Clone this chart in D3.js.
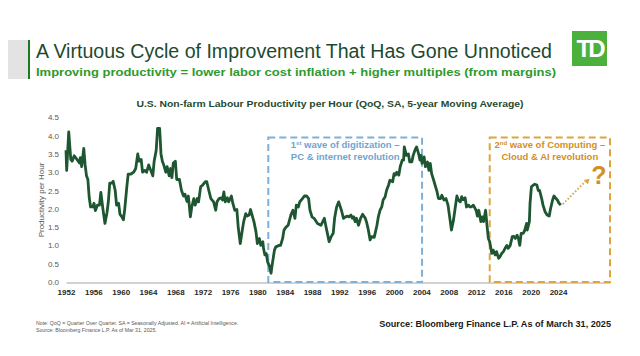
<!DOCTYPE html>
<html><head><meta charset="utf-8">
<script src="https://cdn.jsdelivr.net/npm/d3@7"></script>
<style>html,body{margin:0;padding:0;background:#fff;}svg{display:block;}</style>
</head><body>
<script>
// ---- data ----
const years = [1952.0,1952.1,1952.4,1952.7,1952.9,1953.2,1953.6,1954.0,1954.1,1954.3,1954.6,1954.8,1955.0,1955.2,1955.4,1955.6,1955.9,1956.1,1956.3,1956.6,1956.9,1957.1,1957.4,1957.7,1958.0,1958.2,1958.4,1958.7,1958.9,1959.2,1959.4,1959.7,1959.9,1960.1,1960.4,1960.6,1960.9,1961.1,1961.5,1961.9,1962.2,1962.5,1962.7,1963.0,1963.2,1963.5,1963.8,1964.1,1964.4,1964.7,1964.9,1965.2,1965.4,1965.7,1965.9,1966.1,1966.3,1966.6,1966.8,1967.1,1967.3,1967.5,1967.7,1968.0,1968.2,1968.6,1968.9,1969.2,1969.4,1969.7,1969.9,1970.2,1970.4,1970.7,1970.9,1971.2,1971.4,1971.7,1972.0,1972.4,1972.6,1972.9,1973.2,1973.6,1973.9,1974.1,1974.4,1974.7,1974.9,1975.1,1975.3,1975.6,1975.8,1976.2,1976.4,1976.7,1977.0,1977.2,1977.5,1977.8,1978.0,1978.3,1978.5,1978.8,1979.0,1979.3,1979.5,1979.8,1980.0,1980.3,1980.5,1980.8,1980.9,1981.1,1981.3,1981.5,1981.8,1982.0,1982.2,1982.5,1982.7,1983.2,1983.4,1983.7,1983.9,1984.2,1984.5,1984.9,1985.2,1985.5,1985.7,1986.0,1986.2,1986.6,1986.9,1987.2,1987.5,1987.7,1988.0,1988.3,1988.8,1989.3,1989.8,1990.0,1990.3,1990.5,1990.8,1991.1,1991.3,1991.6,1991.9,1992.3,1992.6,1992.9,1993.2,1993.4,1993.7,1993.9,1994.1,1994.3,1994.5,1994.8,1995.1,1995.4,1995.8,1996.0,1996.2,1996.5,1996.7,1997.1,1997.5,1997.7,1997.95,1998.2,1998.4,1998.7,1998.9,1999.2,1999.4,1999.8,2000.0,2000.2,2000.4,2000.7,2000.9,2001.2,2001.4,2001.5,2001.8,2002.1,2002.3,2002.6,2002.8,2003.1,2003.3,2003.6,2003.8,2003.95,2004.1,2004.4,2004.6,2004.9,2005.1,2005.3,2005.5,2005.8,2006.0,2006.3,2006.5,2006.8,2007.0,2007.3,2007.6,2007.9,2008.2,2008.4,2008.7,2008.9,2009.2,2009.4,2009.7,2009.9,2010.1,2010.4,2010.6,2010.9,2011.1,2011.3,2011.6,2012.0,2012.2,2012.4,2012.7,2012.9,2013.1,2013.4,2013.6,2013.8,2014.0,2014.3,2014.5,2014.8,2015.0,2015.3,2015.5,2015.75,2016.0,2016.25,2016.5,2016.7,2017.0,2017.3,2017.5,2017.75,2018.0,2018.2,2018.4,2018.6,2018.9,2019.1,2019.4,2019.5,2019.8,2019.9,2020.1,2020.4,2020.6,2020.9,2021.1,2021.3,2021.6,2021.8,2022.1,2022.4,2022.7,2022.9,2023.2,2023.4,2023.7,2023.9,2024.15,2024.4];
const productivity = [3.6,3.05,4.1,3.35,3.3,3.45,3.35,3.25,3.4,3.15,3.65,3.2,2.9,2.8,2.3,2.05,2.05,2.15,1.95,2.1,2.1,2.45,2.0,1.6,1.9,2.2,2.7,2.7,2.75,2.5,2.1,2.15,1.85,1.8,1.7,2.0,2.6,2.95,2.95,3.0,3.1,3.5,3.3,3.35,3.0,3.05,3.0,3.2,3.05,2.9,3.3,3.6,4.2,4.2,3.5,3.3,3.2,3.0,3.15,2.9,3.1,2.85,3.25,3.3,2.8,2.8,2.5,2.35,2.4,2.2,2.35,1.78,2.05,2.28,2.1,2.28,2.19,2.6,2.65,2.74,2.74,2.5,2.28,2.19,1.96,2.19,2.28,2.3,2.24,2.46,2.19,2.3,2.19,2.35,2.16,1.96,1.98,1.5,1.05,1.42,1.65,1.87,1.8,1.83,1.98,1.78,1.65,1.37,1.05,1.19,1.0,1.1,0.92,0.74,0.78,0.55,0.42,0.24,0.51,0.87,0.96,1.0,1.0,1.19,1.42,1.5,1.55,1.83,1.96,1.74,2.1,2.05,2.19,2.28,2.35,2.35,2.28,1.96,1.78,1.74,1.6,1.55,1.74,1.55,1.28,1.1,1.24,1.33,1.74,2.05,2.19,1.96,1.74,1.78,1.8,1.78,1.83,1.74,1.78,1.65,1.74,1.55,1.74,1.85,1.74,1.62,1.46,1.15,1.24,1.22,1.55,1.78,1.96,2.05,2.24,2.33,2.5,2.65,2.78,2.74,2.96,2.92,3.0,2.92,3.15,3.33,3.33,3.69,3.46,3.5,3.28,3.28,3.46,3.62,3.69,3.5,3.33,3.46,3.24,3.42,3.15,3.28,3.05,3.24,2.96,2.78,2.65,2.46,2.28,2.28,2.37,2.24,2.28,2.1,1.69,1.42,1.69,1.96,2.35,2.24,2.19,2.33,2.25,2.3,2.05,2.1,2.05,2.05,2.1,1.96,1.8,1.96,1.65,1.78,1.65,1.96,1.55,1.19,1.1,0.78,0.87,0.74,0.83,0.65,0.69,0.78,0.83,0.92,1.0,0.92,1.0,1.24,1.25,1.19,1.28,1.19,1.0,1.33,1.33,1.4,1.6,1.42,1.65,2.15,2.6,2.65,2.67,2.65,2.5,2.5,2.28,2.1,1.92,1.83,1.8,2.0,2.24,2.35,2.28,2.24,2.15,2.1];
const xTickYears = [1952,1956,1960,1964,1968,1972,1976,1980,1984,1988,1992,1996,2000,2004,2008,2012,2016,2020,2024];
const yTickValues = [0,0.5,1.0,1.5,2.0,2.5,3.0,3.5,4.0,4.5];
// annotation boxes (year / value extents)
const wave1 = {x0:1981.6, x1:2004.1, y0:0, y1:3.95, lines:["1st wave of digitization \u2013","PC & internet revolution"]};
const wave2 = {x0:2014.0, x1:2031.6, y0:0, y1:3.95, lines:["2nd wave of Computing \u2013","Cloud & AI revolution"]};
const arrowEnd = {year:2028.6, value:2.82};

const W=640,H=356;
const svg=d3.select("body").append("svg").attr("width",W).attr("height",H);
const FONT="'Liberation Sans', Arial, sans-serif";

// header decoration
svg.append("rect").attr("x",8).attr("y",40).attr("width",20).attr("height",39).attr("fill","#e3e3e3");
svg.append("rect").attr("x",28).attr("y",40).attr("width",2).attr("height",39).attr("fill","#1f7a1f");
svg.append("text").attr("x",36).attr("y",58).attr("font-family",FONT).attr("font-size",19.5)
  .attr("fill","#1c4a30").attr("textLength",516).attr("lengthAdjust","spacingAndGlyphs")
  .text("A Virtuous Cycle of Improvement That Has Gone Unnoticed");
svg.append("text").attr("x",36).attr("y",76).attr("font-family",FONT).attr("font-size",11).attr("font-weight","bold")
  .attr("fill","#2e9a2e").attr("textLength",520).attr("lengthAdjust","spacingAndGlyphs")
  .text("Improving productivity = lower labor cost inflation + higher multiples (from margins)");
// TD logo
svg.append("rect").attr("x",572).attr("y",31).attr("width",35).attr("height",35).attr("fill","#4cb03c");
svg.append("text").attr("x",589.5).attr("y",57).attr("text-anchor","middle").attr("font-family",FONT)
  .attr("font-weight","bold").attr("font-size",24).attr("fill","#fff").attr("letter-spacing",-3).text("TD");

// chart title
svg.append("text").attr("x",330).attr("y",107).attr("text-anchor","middle").attr("font-family",FONT)
  .attr("font-size",9).attr("font-weight","bold").attr("fill","#1f4a2e").attr("textLength",387).attr("lengthAdjust","spacingAndGlyphs")
  .text("U.S. Non-farm Labour Productivity per Hour (QoQ, SA, 5-year Moving Average)");

const x=d3.scaleLinear().domain([1952,2031.6]).range([66,610]);
const y=d3.scaleLinear().domain([0,4.5]).range([282,117.3]);

// y axis
const yAx=svg.append("g").attr("transform","translate(61,0)")
  .call(d3.axisLeft(y).tickValues(yTickValues).tickSize(0).tickPadding(2).tickFormat(d3.format(".1f")));
yAx.select(".domain").remove();
yAx.selectAll("text").attr("font-family",FONT).attr("font-size",8).attr("fill","#595959");
svg.append("text").attr("transform","translate(44,200) rotate(-90)").attr("text-anchor","middle")
  .attr("font-family",FONT).attr("font-size",8).attr("fill","#595959").text("Productivity per Hour");

// x axis
const xAx=svg.append("g").attr("transform","translate(0,282.5)")
  .call(d3.axisBottom(x).tickValues(xTickYears).tickSize(0).tickPadding(7).tickFormat(d3.format("d")));
xAx.select(".domain").attr("stroke","#a6a6a6").attr("stroke-width",1.2);
xAx.selectAll("text").attr("font-family",FONT).attr("font-size",8).attr("font-weight","bold").attr("fill","#262626");

// boxes
function box(b,color){
  svg.append("rect").attr("x",x(b.x0)).attr("y",y(b.y1)).attr("width",x(b.x1)-x(b.x0)).attr("height",y(b.y0)-y(b.y1))
    .attr("fill","none").attr("stroke",color).attr("stroke-width",2).attr("stroke-dasharray","7,4");
}
box(wave1,"#7fb0d8");
box(wave2,"#e0a43c");

// line
const pts=years.map((yr,i)=>[yr,productivity[i]]);
svg.append("path").datum(pts).attr("fill","none").attr("stroke","#1e5631").attr("stroke-width",2.8)
  .attr("stroke-linejoin","round").attr("d",d3.line().x(d=>x(d[0])).y(d=>y(d[1])));

// wave texts
function label(b,color,cx){
  const t=svg.append("text").attr("text-anchor","middle").attr("font-family",FONT).attr("font-size",9.5)
    .attr("font-weight","bold").attr("fill",color);
  const m=b.lines[0].match(/^(\d)(st|nd)(.*)$/);
  const t1=t.append("tspan").attr("x",cx).attr("y",148);
  t1.append("tspan").text(m[1]);
  t1.append("tspan").attr("font-size",6).attr("dy",-3.5).text(m[2]);
  t1.append("tspan").attr("dy",3.5).text(m[3]);
  t.append("tspan").attr("x",cx).attr("y",160).text(b.lines[1]);
}
label(wave1,"#6fa4d2",(x(wave1.x0)+x(wave1.x1))/2);
label(wave2,"#d3901f",(x(wave2.x0)+x(wave2.x1))/2);

// dotted arrow
const last=pts[pts.length-1];
const ax0=x(last[0])+2, ay0=y(last[1])-1, ax1=x(arrowEnd.year), ay1=y(arrowEnd.value);
svg.append("line").attr("x1",ax0).attr("y1",ay0).attr("x2",ax1-3).attr("y2",ay1+1.5)
  .attr("stroke","#e0a43c").attr("stroke-width",2).attr("stroke-dasharray","1.5,2");
const ang=Math.atan2(ay1-ay0,ax1-ax0);
const hs=5;
svg.append("path").attr("d",`M${ax1},${ay1}L${ax1-hs*Math.cos(ang)+hs*0.6*Math.sin(ang)},${ay1-hs*Math.sin(ang)-hs*0.6*Math.cos(ang)}L${ax1-hs*Math.cos(ang)-hs*0.6*Math.sin(ang)},${ay1-hs*Math.sin(ang)+hs*0.6*Math.cos(ang)}Z`)
  .attr("fill","#e0a43c");
svg.append("text").attr("x",599).attr("y",184).attr("text-anchor","middle").attr("font-family",FONT)
  .attr("font-weight","bold").attr("font-size",25).attr("fill","#d3901f").text("?");

// footnotes
svg.append("text").attr("x",36).attr("y",325).attr("font-family",FONT).attr("font-size",5.2).attr("fill","#595959")
  .text("Note: QoQ = Quarter Over Quarter. SA = Seasonally Adjusted. AI = Artificial Intelligence.");
svg.append("text").attr("x",36).attr("y",332).attr("font-family",FONT).attr("font-size",5.2).attr("fill","#595959")
  .text("Source: Bloomberg Finance L.P. As of Mar 31, 2025.");
const src=svg.append("text").attr("x",611).attr("y",327).attr("text-anchor","end")
  .attr("font-family","'Liberation Sans Narrow', 'Liberation Sans', Arial, sans-serif")
  .attr("font-size",10.5).attr("font-weight","bold").attr("fill","#1a1a1a")
  .text("Source: Bloomberg Finance L.P. As of March 31, 2025");
const sw=src.node().getComputedTextLength();
if(sw>235) src.attr("font-size",10.5*232/sw);
</script>
</body></html>
